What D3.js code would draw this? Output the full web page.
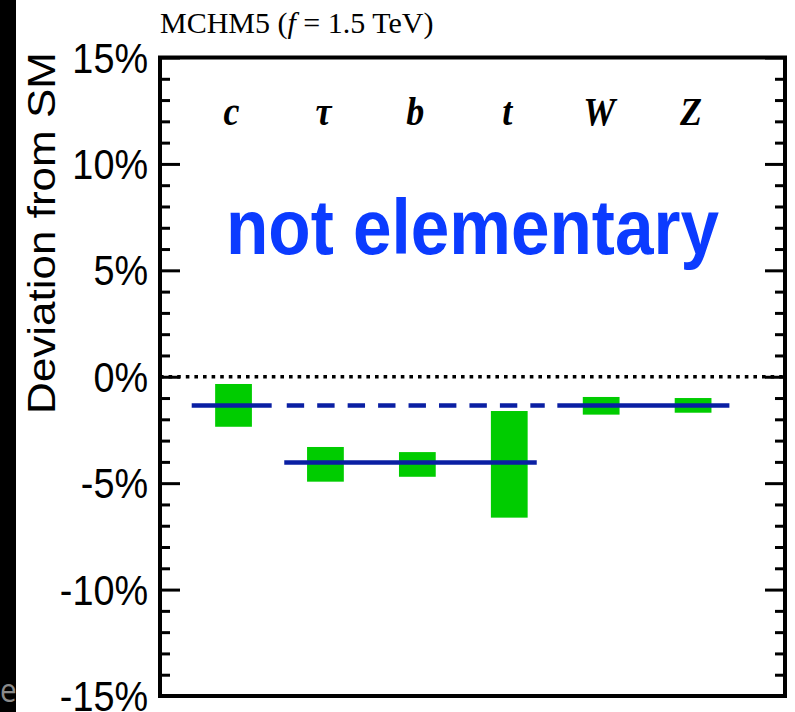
<!DOCTYPE html>
<html>
<head>
<meta charset="utf-8">
<script src="https://cdn.jsdelivr.net/npm/d3@7"></script>
<style>
  html, body { margin: 0; padding: 0; background: #fff; }
  svg { display: block; }
</style>
</head>
<body>
<svg id="chart" width="795" height="712"></svg>
<script>
// Channels and their fitted deviation ranges (percent from SM)
const channels = ["c", "τ", "b", "t", "W", "Z"];
const bandHigh = [-0.34, -3.30, -3.54, -1.61, -0.95, -1.00];
const bandLow  = [-2.35, -4.93, -4.70, -6.62, -1.78, -1.69];

// MCHM5 predictions: one level for c/W/Z (dashed across the gap), one for τ/b/t
const upperLevel = -1.35;
const upperSolid = [[0.345, 1.215], [4.323, 6.195]];
const upperDashed = [[1.379, 4.186]];
const lowerLevel = -4.03;
const lowerSolid = [[1.352, 4.099]];

const majorTicks = [-15, -10, -5, 0, 5, 10, 15];
const minorTicks = d3.range(-15, 16, 1).filter(v => v % 5 !== 0);

const titleText = "MCHM5";
const yLabel = "Deviation from SM";
const banner = "not elementary";

const svg = d3.select("#chart");
const plotLeft = 160, plotRight = 785, plotTop = 57.5, plotBottom = 696;
const sx = 0.9; // horizontal squeeze applied to text

const x = d3.scaleLinear().domain([0, 6.8]).range([plotLeft, plotRight]);
const y = d3.scaleLinear().domain([-15, 15]).range([plotBottom, plotTop]);

// dark strip along the left edge
svg.append("rect").attr("x", 0).attr("y", 0).attr("width", 16).attr("height", 712).attr("fill", "#000");
svg.append("text").attr("transform", "translate(0,702) scale(0.9,1)")
  .attr("font-family", "Open Sans, sans-serif").attr("font-size", 33)
  .attr("fill", "#8a8a8a").text("e");

// green bands
svg.append("g").selectAll("rect").data(channels).join("rect")
  .attr("x", (d, i) => x(i + 0.6))
  .attr("width", x(0.4) - x(0))
  .attr("y", (d, i) => y(bandHigh[i]))
  .attr("height", (d, i) => y(bandLow[i]) - y(bandHigh[i]))
  .attr("fill", "#00cc00");

// zero line
svg.append("line")
  .attr("x1", plotLeft).attr("x2", plotRight).attr("y1", y(0)).attr("y2", y(0))
  .attr("stroke", "#000").attr("stroke-width", 3.5).attr("stroke-dasharray", "3.6 5");

// prediction lines
const blue = "#0a1fa3";
const seg = (g, segs, level, dash) => g.selectAll(null).data(segs).join("line")
  .attr("x1", d => x(d[0])).attr("x2", d => x(d[1]))
  .attr("y1", y(level)).attr("y2", y(level))
  .attr("stroke", blue).attr("stroke-width", 4.5)
  .attr("stroke-dasharray", dash);
const lines = svg.append("g");
seg(lines, upperSolid, upperLevel, null);
seg(lines, upperDashed, upperLevel, "17.4 13.05");
seg(lines, lowerSolid, lowerLevel, null);

// axis ticks (pointing inward on both sides)
const tickStyle = g => {
  g.select(".domain").remove();
  g.selectAll("text").remove();
  g.selectAll("line").attr("stroke", "#000").attr("stroke-width", 3);
};
svg.append("g").attr("transform", `translate(${plotLeft},0)`)
  .call(d3.axisLeft(y).tickValues(majorTicks).tickSize(-20)).call(tickStyle);
svg.append("g").attr("transform", `translate(${plotLeft},0)`)
  .call(d3.axisLeft(y).tickValues(minorTicks).tickSize(-10)).call(tickStyle);
svg.append("g").attr("transform", `translate(${plotRight},0)`)
  .call(d3.axisRight(y).tickValues(majorTicks).tickSize(-20)).call(tickStyle);
svg.append("g").attr("transform", `translate(${plotRight},0)`)
  .call(d3.axisRight(y).tickValues(minorTicks).tickSize(-10)).call(tickStyle);

// frame
svg.append("rect")
  .attr("x", plotLeft).attr("y", plotTop)
  .attr("width", plotRight - plotLeft).attr("height", plotBottom - plotTop)
  .attr("fill", "none").attr("stroke", "#000").attr("stroke-width", 4);

// tick labels
svg.append("g").selectAll("text").data(majorTicks).join("text")
  .attr("transform", d => `translate(148,${y(d)}) scale(${sx},1)`)
  .attr("dy", "0.36em")
  .attr("text-anchor", "end")
  .attr("font-family", "Liberation Sans, Arial, sans-serif")
  .attr("font-size", 42)
  .attr("fill", "#000")
  .text(d => d + "%");

// y label
svg.append("text")
  .attr("transform", `translate(55,233) scale(${sx},1) rotate(-90)`)
  .attr("text-anchor", "middle")
  .attr("font-family", "Liberation Sans, Arial, sans-serif")
  .attr("font-size", 44)
  .attr("fill", "#000")
  .text(yLabel);

// title
const t = svg.append("text")
  .attr("transform", `translate(160,33)`)
  .attr("font-family", "Liberation Serif, Times New Roman, serif")
  .attr("font-size", 30)
  .attr("fill", "#000");
t.append("tspan").text(titleText + " (");
t.append("tspan").attr("font-style", "italic").text("f");
t.append("tspan").text(" = 1.5 TeV)");

// channel labels
svg.append("g").selectAll("text").data(channels).join("text")
  .attr("transform", (d, i) => `translate(${x(i + 0.8) - 2},124.5) scale(${sx},1)`)
  .attr("text-anchor", "middle")
  .attr("font-family", "Liberation Serif, Times New Roman, serif")
  .attr("font-style", "italic").attr("font-weight", "bold")
  .attr("font-size", 40)
  .attr("fill", "#000")
  .text(d => d);

// banner
svg.append("text")
  .attr("transform", `translate(226,254) scale(${sx},1)`)
  .attr("font-family", "Liberation Sans, Arial, sans-serif")
  .attr("font-weight", "bold")
  .attr("font-size", 77)
  .attr("fill", "#0b3bff")
  .text(banner);
</script>
</body>
</html>
